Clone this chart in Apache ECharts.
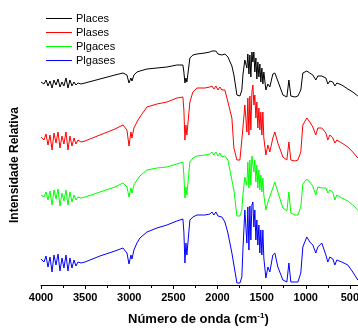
<!DOCTYPE html>
<html>
<head>
<meta charset="utf-8">
<script src="https://cdn.jsdelivr.net/npm/echarts@6/dist/echarts.min.js"></script>
<style>
  html, body { margin: 0; padding: 0; background: #fff; }
  #chart { width: 358px; height: 329px; }
</style>
</head>
<body>
<div id="chart"></div>
<script>
// FTIR spectra, wavenumber (cm-1) and relative intensity (arbitrary units, stacked)
var wavenumber = [4000, 3966, 3943, 3921, 3898, 3875, 3853, 3830, 3807, 3785, 3762, 3740, 3717, 3694, 3672, 3649, 3626, 3604, 3581, 3547,
    3502, 3332, 3162, 3071, 3026, 3003, 2981, 2969, 2947, 2913, 2879, 2800, 2686, 2573, 2460, 2392, 2381, 2369, 2358, 2347,
    2313, 2279, 2233, 2143, 2086, 2063, 2041, 2018, 1995, 1973, 1950, 1916, 1882, 1837, 1814, 1780, 1746, 1724, 1712, 1690,
    1667, 1656, 1644, 1633, 1622, 1610, 1599, 1588, 1577, 1565, 1554, 1543, 1531, 1520, 1509, 1497, 1486, 1475, 1452, 1429,
    1407, 1373, 1350, 1316, 1259, 1214, 1191, 1180, 1169, 1123, 1089, 1056, 1033, 988, 954, 920, 886, 863, 818, 772,
    750, 727, 693, 670, 648, 591, 523, 467, 410];

var places = [203, 201, 205, 199, 204, 197, 205, 200, 206, 198, 203, 199, 207, 197, 205, 199, 203, 200, 202, 201,
    202, 206, 210, 212, 210, 202, 207, 204, 210, 213, 214, 216, 217, 218, 220, 220, 213, 202, 207, 203,
    227, 230, 231, 232, 233, 234, 232, 234, 231, 233, 230, 231, 228, 219, 210, 190, 189, 195, 210, 225,
    217, 231, 211, 230, 208, 233, 223, 233, 213, 227, 206, 223, 208, 221, 203, 217, 201, 213, 195, 201,
    198, 211, 212, 204, 190, 188, 205, 203, 189, 188, 189, 195, 212, 214, 212, 210, 205, 209, 209, 207,
    201, 204, 203, 199, 202, 200, 196, 193, 189];

var plases = [148, 145, 151, 140, 150, 135, 152, 142, 153, 137, 149, 141, 153, 135, 149, 139, 147, 141, 145, 143,
    144, 150, 156, 160, 155, 139, 153, 147, 157, 163, 168, 178, 181, 183, 187, 188, 175, 145, 160, 150,
    183, 193, 197, 197, 198, 199, 196, 199, 195, 198, 195, 195, 183, 167, 137, 125, 125, 127, 157, 180,
    153, 187, 150, 189, 155, 193, 200, 180, 190, 167, 183, 157, 177, 155, 173, 150, 173, 147, 130, 140,
    133, 147, 153, 142, 128, 125, 143, 145, 125, 124, 125, 133, 160, 167, 163, 158, 150, 157, 157, 152,
    145, 150, 147, 142, 145, 142, 138, 133, 127];

var plgaces = [90, 88, 93, 85, 94, 80, 95, 86, 96, 79, 92, 84, 95, 80, 93, 83, 90, 85, 88, 87,
    88, 93, 98, 102, 98, 88, 97, 92, 100, 105, 109, 115, 117, 118, 121, 123, 110, 87, 98, 90,
    123, 127, 129, 130, 131, 133, 130, 133, 129, 132, 128, 129, 125, 105, 95, 69, 69, 75, 90, 108,
    100, 123, 97, 125, 100, 129, 130, 113, 125, 103, 120, 97, 115, 95, 110, 93, 107, 90, 75, 83,
    85, 97, 103, 93, 77, 74, 93, 95, 72, 70, 70, 78, 101, 106, 103, 99, 90, 98, 97, 97,
    92, 95, 93, 85, 90, 87, 84, 80, 75];

var plgases = [26, 23, 29, 18, 28, 13, 30, 20, 31, 14, 27, 17, 30, 14, 27, 17, 25, 19, 23, 22,
    23, 29, 34, 37, 32, 21, 30, 26, 35, 42, 47, 53, 57, 60, 64, 66, 53, 22, 42, 30,
    65, 68, 70, 70, 71, 73, 70, 73, 69, 71, 68, 63, 52, 32, 20, 2, 2, 8, 35, 75,
    42, 78, 35, 79, 45, 80, 83, 58, 75, 45, 65, 40, 60, 32, 55, 30, 55, 27, 7, 18,
    13, 30, 32, 18, 5, 3, 22, 20, 3, 3, 3, 12, 38, 48, 43, 40, 32, 38, 42, 30,
    23, 28, 26, 20, 25, 23, 20, 13, 5];

var seriesNames = ['Places', 'Plases', 'Plgaces', 'Plgases'];
var seriesColors = ['#000000', '#ff0000', '#00ff00', '#0000ff'];
var seriesValues = [places, plases, plgaces, plgases];

var fontFam = 'Arial, "Liberation Sans", sans-serif';

function pairs(values) {
    var out = [];
    for (var i = 0; i < wavenumber.length; i++) {
        out.push([wavenumber[i], values[i]]);
    }
    return out;
}

var myChart = echarts.init(document.getElementById('chart'), null, { renderer: 'canvas' });

var series = seriesNames.map(function (name, i) {
    return {
        name: name,
        type: 'line',
        data: pairs(seriesValues[i]),
        showSymbol: false,
        symbol: 'none',
        lineStyle: { color: seriesColors[i], width: 1 },
        itemStyle: { color: seriesColors[i] },
        emphasis: { disabled: true },
        animation: false
    };
});

var option = {
    backgroundColor: '#ffffff',
    animation: false,
    title: {
        text: 'Número de onda (cm{sup|-1})',
        left: 128,
        top: 312,
        padding: 0,
        textStyle: {
            fontFamily: fontFam,
            fontSize: 13,
            fontWeight: 'bold',
            color: '#000',
            rich: {
                sup: {
                    fontFamily: fontFam,
                    fontSize: 8,
                    fontWeight: 'bold',
                    color: '#000',
                    verticalAlign: 'top',
                    padding: [0, 0, 6, 0]
                }
            }
        }
    },
    legend: {
        data: seriesNames,
        orient: 'vertical',
        left: 46,
        top: 12,
        padding: 0,
        itemGap: 1,
        itemWidth: 26,
        itemHeight: 1,
        icon: 'rect',
        selectedMode: false,
        textStyle: {
            fontFamily: fontFam,
            fontSize: 11,
            color: '#000',
            lineHeight: 13,
            padding: [0, 0, 0, -1]
        }
    },
    grid: {
        left: 41,
        top: 45,
        width: 353,
        height: 240,
        containLabel: false,
        outerBoundsMode: 'none'
    },
    xAxis: {
        type: 'value',
        inverse: true,
        min: 0,
        max: 4000,
        interval: 500,
        axisLine: { show: true, onZero: false, lineStyle: { color: '#000', width: 1 } },
        axisTick: { show: true, inside: false, length: 4, lineStyle: { color: '#000' } },
        minorTick: { show: true, splitNumber: 2, length: 3, lineStyle: { color: '#000' } },
        splitLine: { show: false },
        axisLabel: {
            margin: 7,
            fontFamily: fontFam,
            fontSize: 11,
            fontWeight: 'bold',
            color: '#000',
            formatter: function (v) { return String(v); }
        }
    },
    yAxis: {
        type: 'value',
        min: 0,
        max: 240,
        name: 'Intensidade Relativa',
        nameLocation: 'middle',
        nameGap: 20,
        nameTextStyle: {
            fontFamily: fontFam,
            fontSize: 12,
            fontWeight: 'bold',
            color: '#000'
        },
        axisLine: { show: true, lineStyle: { color: '#000', width: 1 } },
        axisTick: { show: false },
        axisLabel: { show: false },
        splitLine: { show: false }
    },
    series: series
};

if (option && typeof option === 'object') {
    myChart.setOption(option, true);
}
</script>
</body>
</html>
